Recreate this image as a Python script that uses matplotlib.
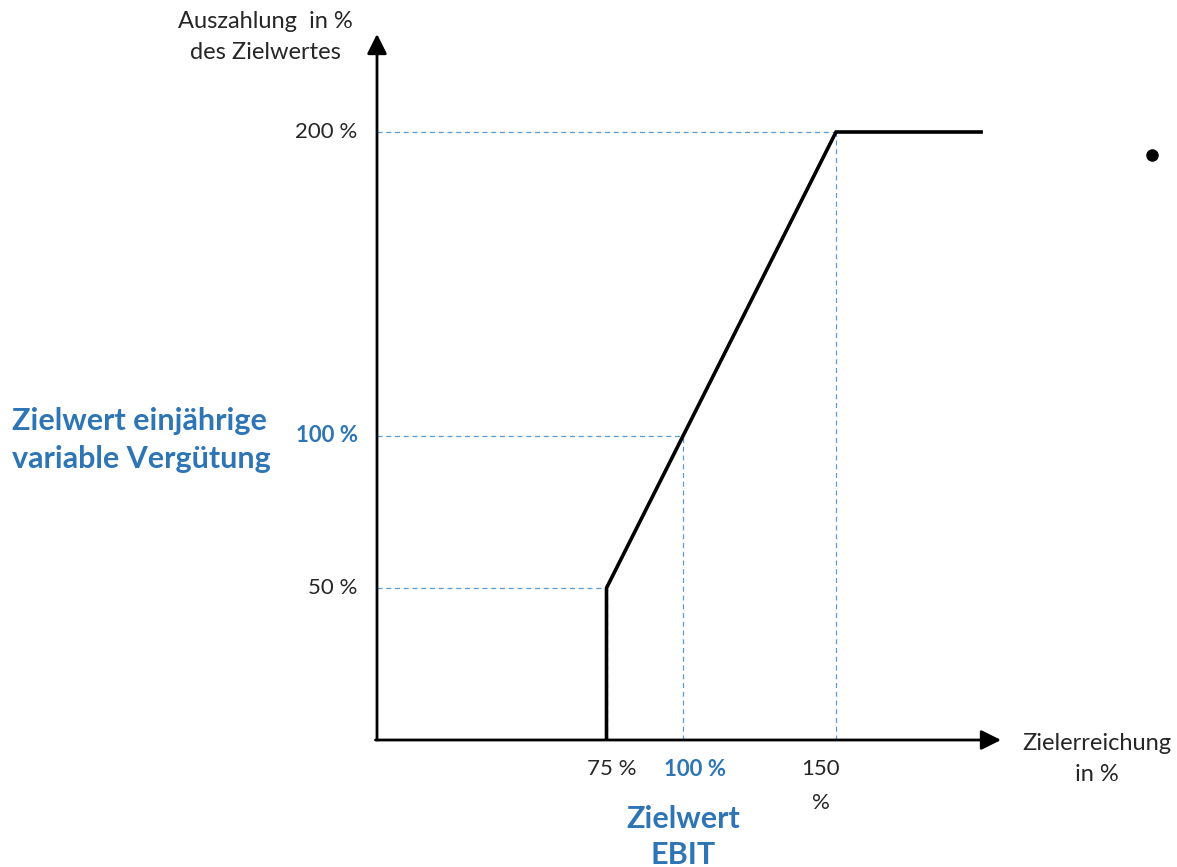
import matplotlib.pyplot as plt

# ============================================================
# DATA
# ============================================================

zielerreichung = [75, 75, 150, 198]      # x values of the payout curve (%)
auszahlung = [0, 50, 200, 200]           # y values of the payout curve (%)

guide_x = [75, 100, 150]                 # points marked with dashed guides
guide_y = [50, 100, 200]

x_tick_labels = ["75 %", "100 %", "150\n%"]
y_tick_labels = ["50 %", "100 %", "200 %"]
highlight = [False, True, False]         # the 100 % target value is shown in blue

BLUE_TEXT = "#2E75B6"
BLUE_LINE = "#5B9BD5"
TEXT = "#262626"
FONT = ["Lato", "DejaVu Sans"]

W, H = 1177, 867
X0, Y0 = 377, 740          # pixel position of the origin
SX, SY = 3.06, 3.04        # pixels per percent


def px(x, y):
    """Convert a pixel position (from top-left) to data coordinates."""
    return (x - X0) / SX, (Y0 - y) / SY


def main() -> None:
    plt.rcParams["font.family"] = FONT

    fig = plt.figure(figsize=(W / 100, H / 100), dpi=100)
    ax = fig.add_axes([0, 0, 1, 1])
    ax.set_xlim(-X0 / SX, (W - X0) / SX)
    ax.set_ylim(-(H - Y0) / SY, Y0 / SY)
    ax.axis("off")

    # axes with arrow heads
    arrow = dict(arrowstyle="-|>,head_length=1.0,head_width=0.5", color="black",
                 lw=2.0, mutation_scale=12, shrinkA=0, shrinkB=0)
    ax.annotate("", xy=px(X0, 34), xytext=(0, 0), arrowprops=arrow)
    ax.annotate("", xy=px(1001, Y0), xytext=(-0.5, 0), arrowprops=arrow)

    # dashed guide lines
    for gx, gy in zip(guide_x, guide_y):
        ax.plot([0, gx], [gy, gy], color=BLUE_LINE, lw=0.9, ls=(0, (4, 3)))
        ax.plot([gx, gx], [0, gy], color=BLUE_LINE, lw=0.9, ls=(0, (4, 3)))

    # payout curve
    ax.plot(zielerreichung, auszahlung, color="black", lw=2.6,
            solid_joinstyle="miter", solid_capstyle="butt")

    # tick labels
    for gy, lab, hi in zip(guide_y, y_tick_labels, highlight):
        ax.annotate(lab, xy=(0, gy), xytext=(-14, 0), textcoords="offset points",
                    ha="right", va="center", fontsize=16, color=BLUE_TEXT if hi else TEXT,
                    fontweight="bold" if hi else "normal")
    for gx, lab, hi in zip(guide_x, x_tick_labels, highlight):
        dx = 9 if hi else (4 if lab.startswith("75") else -11)
        ax.annotate(lab, xy=(gx, 0), xytext=(dx, -14), textcoords="offset points",
                    ha="center", va="top", fontsize=16, linespacing=1.85,
                    color=BLUE_TEXT if hi else TEXT,
                    fontweight="bold" if hi else "normal")

    # axis titles
    ax.text(*px(265, 37), "Auszahlung  in %\ndes Zielwertes", ha="center",
            va="center", fontsize=17, color=TEXT, linespacing=1.6)
    ax.text(*px(1097, 759), "Zielerreichung\nin %", ha="center",
            va="center", fontsize=17, color=TEXT, linespacing=1.6)

    # blue annotations
    ax.text(*px(12, 440), "Zielwert einjährige\nvariable Vergütung",
            ha="left", va="center", fontsize=22, fontweight="bold",
            color=BLUE_TEXT, linespacing=1.45)
    ax.text(*px(683, 837), "Zielwert\nEBIT", ha="center", va="center",
            fontsize=22, fontweight="bold", color=BLUE_TEXT, linespacing=1.35)

    # stray bullet
    ax.plot(*px(1152, 155), marker="o", markersize=8, color="black")

    fig.savefig("out.png", dpi=100)
    plt.close(fig)


if __name__ == "__main__":
    main()
